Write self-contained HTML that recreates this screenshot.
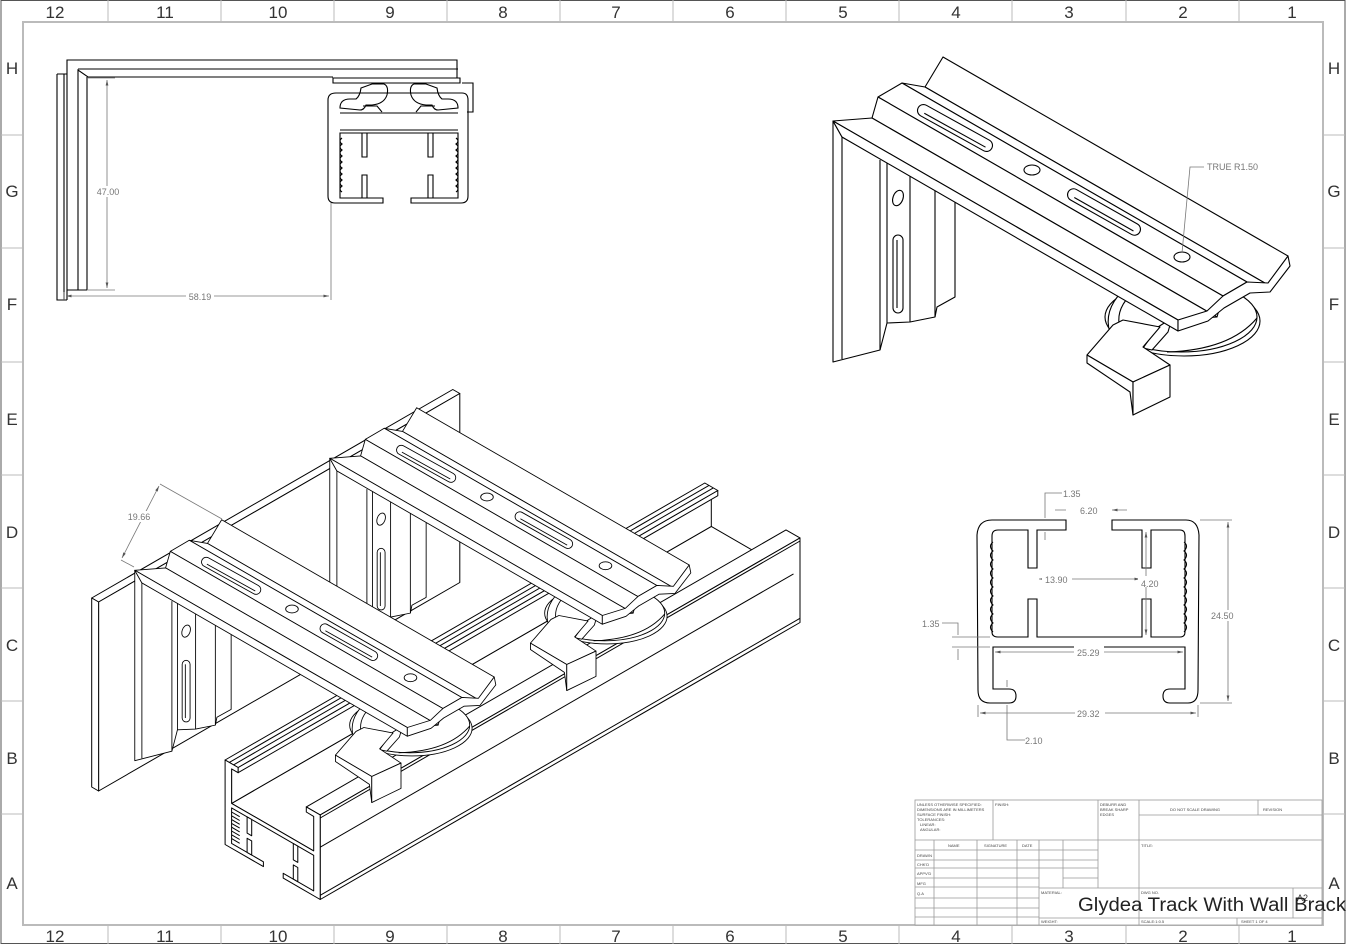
<!DOCTYPE html>
<html><head><meta charset="utf-8"><style>
html,body{margin:0;padding:0;background:#fff}
svg{display:block}
text{font-family:"Liberation Sans",sans-serif}
</style></head><body>
<svg id="sv" xmlns="http://www.w3.org/2000/svg" width="1346" height="944" viewBox="0 0 1346 944">
<defs>
<marker id="ar" viewBox="0 0 10 10" refX="10" refY="5" markerWidth="7" markerHeight="7" orient="auto-start-reverse"><path d="M0,2.5 L10,5 L0,7.5z" fill="#555"/></marker>
<g id="br" fill="#fff" stroke="#000" stroke-width="1.1" stroke-linejoin="round">
 <ellipse cx="1184" cy="321" rx="76" ry="35"/>
 <ellipse cx="1181" cy="317" rx="76" ry="35"/>
 <path d="M1167,352 Q1230,350 1257,318" fill="none"/>
 <path d="M1118,296 Q1102,316 1112,338 L1122,333 Q1114,316 1126,300" />
 <polygon points="1143,348 1158,327 1172,318 1168,332 1152,350"/>
 <polygon points="1087,355 1113,325 1123,320 1160,327 1143,347 1170,365 1133,382"/>
 <polygon points="1087,355 1133,382 1133,415 1130,392 1087,363"/>
 <polygon points="1133,382 1170,365 1170,397 1133,415"/>
 <polygon points="833,121 842,137 955,200 955,297 937,307 935,317 910,322 887,323 880,350 833,362"/>
 <path d="M842,137V359M880,160V350M887,163V323M910,175V322M935,189V317" fill="none"/>
 <ellipse cx="898" cy="198" rx="5" ry="8" transform="rotate(20 898 198)"/>
 <rect x="893" y="235" width="10" height="78" rx="5"/>
 <line x1="897" y1="240" x2="897" y2="308"/>
 <polygon points="925,87 943,57 1288,256 1270,286"/>
 <polygon points="902,83 925,87 1270,286 1247,282"/>
 <polygon points="878,97 902,83 1247,282 1223,296"/>
 <polygon points="872,118 878,97 1223,296 1217,317"/>
 <polygon points="833,121 872,118 1217,317 1178,320"/>
 <polygon points="833,121 1178,320 1178,331 842,137"/>
 <polygon points="1178,320 1207,311 1223,296 1247,282 1268,283 1288,256 1290,266 1270,292 1250,293 1224,308 1208,321 1178,331"/>
 <rect x="-42" y="-6" width="84" height="12" rx="6" transform="translate(955,128) rotate(29)"/>
 <path d="M-34,2 H36" transform="translate(955,128) rotate(29)" fill="none"/>
 <rect x="-41" y="-6" width="82" height="12" rx="6" transform="translate(1104,212) rotate(29.5)"/>
 <path d="M-33,2 H35" transform="translate(1104,212) rotate(29.5)" fill="none"/>
 <ellipse cx="1032" cy="170" rx="8" ry="5"/>
 <ellipse cx="1182" cy="257" rx="8" ry="5"/>
</g>
</defs>

<rect x="1" y="0.5" width="1344" height="943" fill="none" stroke="#555" stroke-width="1"/>
<rect x="23" y="22" width="1300" height="903" fill="none" stroke="#bbb" stroke-width="2"/>
<g stroke="#bbb" stroke-width="1">
<path d="M108,0V22M221,0V22M334,0V22M447,0V22M560,0V22M673,0V22M786,0V22M899,0V22M1012,0V22M1126,0V22M1239,0V22"/>
<path d="M108,925V944M221,925V944M334,925V944M447,925V944M560,925V944M673,925V944M786,925V944M899,925V944M1012,925V944M1126,925V944M1239,925V944"/>
<path d="M1,135H23M1,248H23M1,362H23M1,475H23M1,588H23M1,701H23M1,814H23"/>
<path d="M1323,135H1345M1323,248H1345M1323,362H1345M1323,475H1345M1323,588H1345M1323,701H1345M1323,814H1345"/>
</g>
<g font-size="17" fill="#333" text-anchor="middle">
<text x="55" y="18">12</text><text x="165" y="18">11</text><text x="278" y="18">10</text><text x="390" y="18">9</text><text x="503" y="18">8</text><text x="616" y="18">7</text><text x="730" y="18">6</text><text x="843" y="18">5</text><text x="956" y="18">4</text><text x="1069" y="18">3</text><text x="1183" y="18">2</text><text x="1292" y="18">1</text>
<text x="55" y="942">12</text><text x="165" y="942">11</text><text x="278" y="942">10</text><text x="390" y="942">9</text><text x="503" y="942">8</text><text x="616" y="942">7</text><text x="730" y="942">6</text><text x="843" y="942">5</text><text x="956" y="942">4</text><text x="1069" y="942">3</text><text x="1183" y="942">2</text><text x="1292" y="942">1</text>
<text x="12" y="74">H</text><text x="12" y="197">G</text><text x="12" y="310">F</text><text x="12" y="425">E</text><text x="12" y="538">D</text><text x="12" y="651">C</text><text x="12" y="764">B</text><text x="12" y="889">A</text>
<text x="1334" y="74">H</text><text x="1334" y="197">G</text><text x="1334" y="310">F</text><text x="1334" y="425">E</text><text x="1334" y="538">D</text><text x="1334" y="651">C</text><text x="1334" y="764">B</text><text x="1334" y="889">A</text>
</g>

<g fill="none" stroke="#000" stroke-width="1.1">
<path d="M67,300V60H457V78"/>
<path d="M78,290V70L88,77H333"/>
<path d="M78,69H458M87,77V290M67,290H87"/>
<path d="M57,74V300H67M64,74V300M57,74H67"/>
<path d="M333,78H460V83H333ZM462,83H473V112H467"/>
<path d="M336,93H462Q468,93 468,100V196Q468,203 461,203H411V198H458V133H340V198H383V203H335Q328,203 328,196V100Q328,93 336,93Z"/>
<path d="M340,113H458M340,130H458"/>
<path d="M362,133V157H367V133M362,198V175H367V198M428,133V157H433V133M428,198V175H433V198"/>
<path d="M342,138q-4,3 0,6q-4,3 0,6q-4,3 0,6q-4,3 0,6q-4,3 0,6q-4,3 0,6q-4,3 0,6q-4,3 0,6q-4,3 0,6"/>
<path d="M456,138q4,3 0,6q4,3 0,6q4,3 0,6q4,3 0,6q4,3 0,6q4,3 0,6q4,3 0,6q4,3 0,6q4,3 0,6"/>
<path d="M340,108Q340,99 350,99L356,99Q360,96 361,88L372,84H384Q389,86 387,95Q384,104 372,105L366,105Q364,110 360,110Z"/>
<path d="M458,108Q458,99 448,99L442,99Q438,96 437,88L426,84H414Q409,86 411,95Q414,104 426,105L432,105Q434,110 438,110Z"/>
<path d="M363,106H377L382,112M435,106H421L416,112"/>
</g>
<g stroke="#777" stroke-width="0.8" fill="none">
<path d="M88,78H115M87,290H115M331,203V300M64,300V292"/>
<line x1="107" y1="80" x2="107" y2="288" marker-start="url(#ar)" marker-end="url(#ar)"/>
<line x1="66" y1="296" x2="329" y2="296" marker-start="url(#ar)" marker-end="url(#ar)"/>
</g>
<rect x="94" y="186" width="28" height="11" fill="#fff"/>
<rect x="186" y="291" width="28" height="11" fill="#fff"/>
<g font-size="9" fill="#777" text-anchor="middle">
<text x="108" y="195">47.00</text><text x="200" y="300">58.19</text>
</g>

<use href="#br"/>
<g stroke="#777" stroke-width="0.8" fill="none"><path d="M1182,253L1190,167H1204"/></g>
<text x="1207" y="170" font-size="9" fill="#777">TRUE R1.50</text>

<g id="plate" fill="#fff" stroke="#000" stroke-width="1" stroke-linejoin="round"></g>
<g id="trk" fill="#fff" stroke="#000" stroke-width="1" stroke-linejoin="round"></g>
<use href="#br" transform="matrix(0.79,0,0,0.79,-328.3,362.7)"/>
<use href="#br" transform="matrix(0.79,0,0,0.79,-523.3,474.7)"/>
<g stroke="#777" stroke-width="0.8" fill="none">
<path d="M160,484L222,519M121,560L134,567"/>
<line x1="159" y1="486" x2="122" y2="558" marker-start="url(#ar)" marker-end="url(#ar)"/>
</g>
<rect x="126" y="511" width="28" height="11" fill="#fff"/>
<text x="139" y="520" font-size="9" fill="#777" text-anchor="middle">19.66</text>

<g fill="none" stroke="#000" stroke-width="1.1">
<path d="M1066,520H992Q978,520 977,535L978,690Q978,703 990,703H1009Q1016,703 1016,696Q1016,689 1009,689H993V647H1185V689H1170Q1163,689 1163,696Q1163,703 1170,703H1188Q1198,703 1198,690L1199,535Q1198,520 1186,520H1112V530H1142V568H1151V530H1180Q1185,530 1185,536V632Q1185,637 1180,637H1151V599H1142V637H1037V599H1028V637H998Q992,637 992,632V536Q992,530 998,530H1028V568H1037V530H1066Z"/>
<path d="M993,542q-5,4 0,9q-5,4 0,9q-5,4 0,9q-5,4 0,9q-5,4 0,9q-5,4 0,9q-5,4 0,9q-5,4 0,9q-5,4 0,9q-5,4 0,9"/>
<path d="M1184,542q5,4 0,9q5,4 0,9q5,4 0,9q5,4 0,9q5,4 0,9q5,4 0,9q5,4 0,9q5,4 0,9q5,4 0,9q5,4 0,9"/>
</g>
<g stroke="#777" stroke-width="0.8" fill="none">
<path d="M1062,493H1045V518M1045,532V540"/>
<path d="M1055,510H1066M1127,510H1112" marker-end="url(#ar)"/>
<line x1="1039" y1="579" x2="1140" y2="579" marker-start="url(#ar)" marker-end="url(#ar)"/>
<line x1="1146" y1="532" x2="1146" y2="635" marker-start="url(#ar)" marker-end="url(#ar)"/>
<path d="M1200,520H1232M1200,703H1232"/>
<line x1="1228" y1="522" x2="1228" y2="701" marker-start="url(#ar)" marker-end="url(#ar)"/>
<path d="M942,623H958V635M958,660V649M952,637H990M952,647H990"/>
<line x1="995" y1="652" x2="1183" y2="652" marker-start="url(#ar)" marker-end="url(#ar)"/>
<path d="M978,705V717M1198,705V717"/>
<line x1="980" y1="713" x2="1196" y2="713" marker-start="url(#ar)" marker-end="url(#ar)"/>
<path d="M1025,740H1007V705M1007,680V687"/>
</g>
<g fill="#fff"><rect x="1138" y="576" width="22" height="11"/><rect x="1210" y="610" width="26" height="11"/><rect x="1074" y="646" width="30" height="11"/><rect x="1075" y="707" width="30" height="11"/><rect x="1042" y="574" width="30" height="11"/></g>
<g font-size="9" fill="#777">
<text x="1063" y="497">1.35</text><text x="1080" y="514">6.20</text><text x="1045" y="583">13.90</text><text x="1141" y="587">4.20</text><text x="1211" y="619">24.50</text><text x="922" y="627">1.35</text><text x="1077" y="656">25.29</text><text x="1077" y="717">29.32</text><text x="1025" y="744">2.10</text>
</g>

<g stroke="#999" stroke-width="0.8" fill="none">
<rect x="915" y="800" width="407" height="125" fill="#fff"/>
<path d="M915,840H1322M1139,815H1322M1258,800V815M993,800V840M1098,800V888M1139,800V925"/>
<path d="M934,840V925M977,840V925M1017,840V925M1039,840V925M1063,840V888"/>
<path d="M915,850H1098M915,860H1098M915,868H1098M915,878H1039M915,887H1039M915,898H1039M915,908H1039M915,917H1039M1039,888H1322M1039,918H1322M1293,888V918M1237,918V925M1063,878H1098"/>
</g>
<g font-size="4" fill="#444">
<text x="917" y="806">UNLESS OTHERWISE SPECIFIED:</text><text x="917" y="811">DIMENSIONS ARE IN MILLIMETERS</text><text x="917" y="816">SURFACE FINISH:</text><text x="917" y="821">TOLERANCES:</text><text x="920" y="826">LINEAR:</text><text x="920" y="831">ANGULAR:</text>
<text x="995" y="806">FINISH:</text><text x="1100" y="806">DEBURR AND</text><text x="1100" y="811">BREAK SHARP</text><text x="1100" y="816">EDGES</text>
<text x="1170" y="811">DO NOT SCALE DRAWING</text><text x="1263" y="811">REVISION</text>
<text x="948" y="847">NAME</text><text x="984" y="847">SIGNATURE</text><text x="1022" y="847">DATE</text><text x="1141" y="847">TITLE:</text>
<text x="917" y="857">DRAWN</text><text x="917" y="866">CHK'D</text><text x="917" y="875">APPV'D</text><text x="917" y="885">MFG</text><text x="917" y="895">Q.A</text>
<text x="1041" y="894">MATERIAL:</text><text x="1141" y="894">DWG NO.</text><text x="1041" y="923">WEIGHT:</text><text x="1141" y="923">SCALE:1:0.5</text><text x="1241" y="923">SHEET 1 OF 4</text>
</g>
<text x="1297" y="901" font-size="9" fill="#333">A2</text>
<text x="1078" y="911" font-size="19" fill="#222" textLength="268" lengthAdjust="spacingAndGlyphs">Glydea Track With Wall Brack</text>

<script>
(function(){
var S='http://www.w3.org/2000/svg';
function P(a,b,h){return [135+0.866*(a+b),572+0.5*(a-b)-h];}
var B0=-96,B1=458;
function U(u,v,b){return P(200+u*3.75,b,-40-v*3.45);}
function pg(g,pts,fill){var e=document.createElementNS(S,'polygon');e.setAttribute('points',pts.map(function(p){return p[0].toFixed(1)+','+p[1].toFixed(1);}).join(' '));if(fill)e.setAttribute('fill',fill);g.appendChild(e);return e;}
function ln(g,p,q){var e=document.createElementNS(S,'line');e.setAttribute('x1',p[0].toFixed(1));e.setAttribute('y1',p[1].toFixed(1));e.setAttribute('x2',q[0].toFixed(1));e.setAttribute('y2',q[1].toFixed(1));g.appendChild(e);}
var pl=document.getElementById('plate');
pg(pl,[P(-50,0,-51),P(-42,0,-51),P(-42,417,-51),P(-50,417,-51)]);
pg(pl,[P(-42,0,-51),P(-42,417,-51),P(-42,417,-240),P(-42,0,-240)]);
pg(pl,[P(-50,0,-51),P(-42,0,-51),P(-42,0,-240),P(-50,0,-240)]);
var t=document.getElementById('trk');
function face(u1,v1,u2,v2){return [U(u1,v1,B0),U(u2,v2,B0),U(u2,v2,B1),U(u1,v1,B1)];}
pg(t,face(2,11.5,27.3,11.5));
pg(t,face(2,1.5,2,11.5));
pg(t,face(4,0,4,1.5));
pg(t,face(0,0,4,0));
pg(t,face(25,0,29.3,0));
pg(t,face(29.3,0,29.3,24.5));
ln(t,U(1.3,0,B0),U(1.3,0,B1));ln(t,U(2.6,0,B0),U(2.6,0,B1));
ln(t,U(29.3,0.9,B0),U(29.3,0.9,B1));ln(t,U(29.3,23.3,B0),U(29.3,23.3,B1));
ln(t,U(27.3,11.5,B0),U(27.3,11.5,B1));
var prof=[[0,0],[4,0],[4,1.5],[2,1.5],[2,11.5],[27.3,11.5],[27.3,1.5],[25,1.5],[25,0],[29.3,0],[29.3,24.5],[17.9,24.5],[17.9,23.1],[27.3,23.1],[27.3,12.8],[2,12.8],[2,23.1],[11.8,23.1],[11.8,24.5],[0,24.5]];
pg(t,prof.map(function(q){return U(q[0],q[1],B0);}));
[[6.8,12.8,8.2,17.5],[6.8,19,8.2,23.1],[21,12.8,22.4,17.5],[21,19,22.4,23.1]].forEach(function(r){
pg(t,[U(r[0],r[1],B0),U(r[2],r[1],B0),U(r[2],r[3],B0),U(r[0],r[3],B0)]);});
for(var i=0;i<8;i++){ln(t,U(2,14+i*1.1,B0),U(4.5,14+i*1.1,B0));}
})();
</script>
</svg>
</body></html>
